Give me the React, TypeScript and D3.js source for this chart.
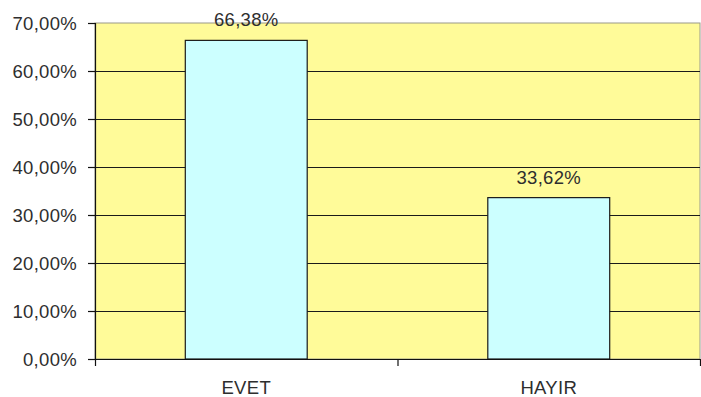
import React from "react";
import * as d3 from "d3";

const categories: string[] = ["EVET", "HAYIR"];
const values: number[] = [66.38, 33.62];
const yTicks: number[] = [0, 10, 20, 30, 40, 50, 60, 70];

const W = 701;
const H = 397;
const plot = { left: 95, right: 700, top: 23, bottom: 359 };
const FONT = "'Liberation Sans', Arial, sans-serif";
const TEXT = "#2e2e2e";
const FS = 18.5;

const fmt = (v: number) => v.toFixed(2).replace(".", ",") + "%";

export default function App() {
  const x = d3
    .scaleBand<string>()
    .domain(categories)
    .range([plot.left, plot.right])
    .paddingInner(0.597)
    .paddingOuter(0.2985);
  const y = d3.scaleLinear().domain([0, 70]).range([plot.bottom, plot.top]);
  const step = x.step();

  return (
    <svg
      width={W}
      height={H}
      style={{ position: "absolute", left: 0, top: 0, background: "#fff" }}
      fontFamily={FONT}
      letterSpacing={0.3}
    >
      {/* plot area */}
      <rect
        x={plot.left}
        y={plot.top}
        width={plot.right - plot.left}
        height={plot.bottom - plot.top}
        fill="#FFFB99"
        stroke="#9a9a8a"
        strokeWidth={1}
      />
      {/* gridlines */}
      {yTicks.slice(1, -1).map((t) => (
        <line
          key={t}
          x1={plot.left}
          x2={plot.right}
          y1={Math.round(y(t)) + 0.5}
          y2={Math.round(y(t)) + 0.5}
          stroke="#1a1a1a"
          strokeWidth={1.2}
        />
      ))}
      {/* bars */}
      {categories.map((c, i) => (
        <rect
          key={c}
          x={x(c)!}
          y={y(values[i])}
          width={x.bandwidth()}
          height={plot.bottom - y(values[i])}
          fill="#CCFFFF"
          stroke="#1a1a1a"
          strokeWidth={1.2}
        />
      ))}
      {/* value labels */}
      {categories.map((c, i) => (
        <text
          key={c}
          x={x(c)! + x.bandwidth() / 2}
          y={y(values[i]) - 14}
          textAnchor="middle"
          fontSize={FS}
          fill={TEXT}
        >
          {fmt(values[i])}
        </text>
      ))}
      {/* y axis */}
      <line x1={plot.left + 0.5} x2={plot.left + 0.5} y1={plot.top} y2={plot.bottom} stroke="#111" strokeWidth={1.2} />
      {yTicks.map((t) => (
        <g key={t}>
          <line
            x1={plot.left - 7}
            x2={plot.left}
            y1={Math.round(y(t)) + 0.5}
            y2={Math.round(y(t)) + 0.5}
            stroke="#111"
            strokeWidth={1.2}
          />
          <text
            x={77}
            y={y(t)}
            dy="0.36em"
            textAnchor="end"
            fontSize={FS}
            fill={TEXT}
          >
            {fmt(t)}
          </text>
        </g>
      ))}
      {/* x axis */}
      <line x1={plot.left} x2={plot.right} y1={plot.bottom + 0.5} y2={plot.bottom + 0.5} stroke="#111" strokeWidth={1.2} />
      {[0, 1, 2].map((k) => (
        <line
          key={k}
          x1={plot.left + k * step + 0.5}
          x2={plot.left + k * step + 0.5}
          y1={plot.bottom}
          y2={plot.bottom + 7}
          stroke="#111"
          strokeWidth={1.2}
        />
      ))}
      {categories.map((c) => (
        <text
          key={c}
          x={x(c)! + x.bandwidth() / 2}
          y={394}
          textAnchor="middle"
          fontSize={FS}
          fill={TEXT}
        >
          {c}
        </text>
      ))}
    </svg>
  );
}
